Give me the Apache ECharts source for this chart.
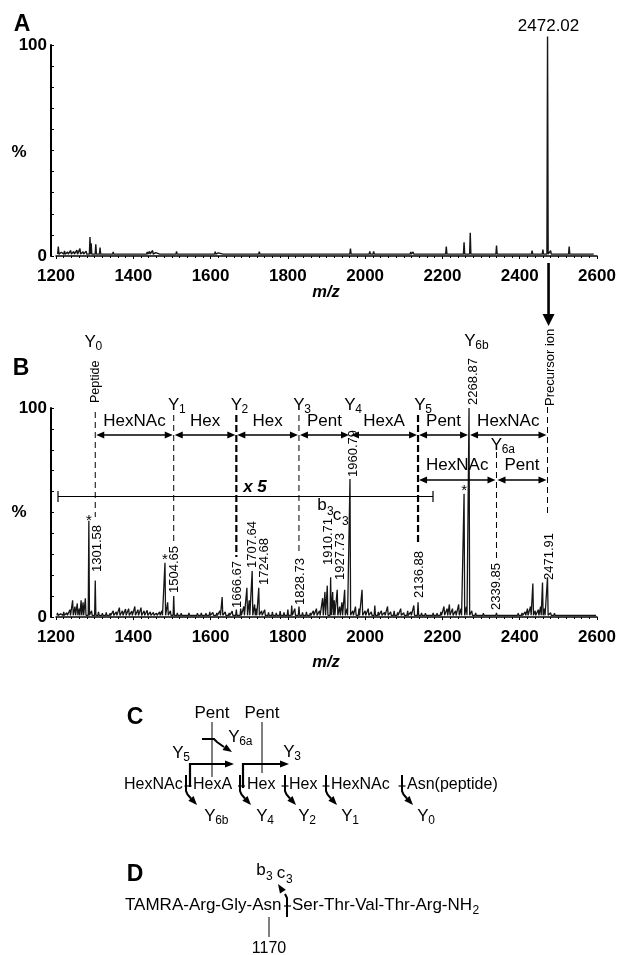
<!DOCTYPE html>
<html>
<head>
<meta charset="utf-8">
<script src="https://cdn.jsdelivr.net/npm/echarts/dist/echarts.min.js"></script>
<style>
  html, body { margin: 0; padding: 0; background: #fff; }
  #main { width: 620px; height: 955px; }
</style>
</head>
<body>
<div id="main"></div>
<script>
// ---- data ----
// panel A: full MS scan, [m/z, relative intensity %]
const peaksA = [
  [1206, 4.5], [1262, 3.5], [1288, 9], [1291, 6], [1303, 5.5], [1314, 4],
  [1450, 2.6], [1512, 2.2], [1612, 2.1], [1726, 2], [1962, 3.5], [2012, 2.2],
  [2022, 2.2], [2118, 1.9], [2124, 1.9], [2210, 4.5], [2256, 6.5], [2272, 11],
  [2340, 5], [2432, 2.5], [2460, 3], [2472.02, 104], [2480, 2.5], [2528, 4.5]
];
const noiseA = [
  [1214, 1.8], [1222, 2.4], [1230, 1.9], [1238, 2.6], [1246, 2.1], [1254, 2.8],
  [1270, 2.0], [1278, 2.3], [1325, 1.8], [1335, 1.5], [1348, 1.9], [1360, 1.6],
  [1372, 1.7], [1385, 1.5], [1398, 1.8], [1410, 1.6], [1422, 1.7], [1436, 1.9],
  [1442, 2.2], [1458, 1.6], [1470, 1.5], [1484, 1.7], [1496, 1.6], [1522, 1.5],
  [1536, 1.6], [1550, 1.4], [1564, 1.5], [1578, 1.4], [1592, 1.6], [1620, 1.5],
  [1634, 1.4], [1648, 1.5], [1662, 1.4], [1676, 1.5], [1690, 1.4], [1704, 1.5],
  [1738, 1.4], [1752, 1.5], [1766, 1.3], [1780, 1.4], [1794, 1.3], [1808, 1.4],
  [1822, 1.3], [1836, 1.4], [1850, 1.3], [1864, 1.4], [1878, 1.3], [1892, 1.3],
  [1906, 1.4], [1920, 1.3], [1934, 1.4], [1946, 1.3], [1975, 1.5], [1990, 1.4],
  [2040, 1.3], [2055, 1.4], [2070, 1.3], [2085, 1.3], [2100, 1.4], [2135, 1.4],
  [2150, 1.3], [2165, 1.3], [2180, 1.5], [2195, 1.6], [2225, 1.5], [2240, 1.6],
  [2290, 1.4], [2305, 1.3], [2320, 1.5], [2360, 1.3], [2375, 1.3], [2390, 1.2],
  [2410, 1.4], [2445, 1.5], [2490, 1.5], [2505, 1.4], [2545, 1.4], [2560, 1.3],
  [2575, 1.3], [2590, 1.3]
];
// panel B: MS/MS of the precursor, [m/z, relative intensity %]
const peaksB = [
  [1204, 2], [1212, 1.5], [1220, 2.5], [1228, 2], [1236, 3.5], [1243, 8], [1249, 5],
  [1255, 6.5], [1260, 4], [1265, 8], [1270, 7], [1276, 9], [1285, 46], [1292, 3],
  [1301.58, 17.5], [1310, 2.5], [1320, 1.8], [1330, 2.2], [1340, 1.8], [1348, 3],
  [1356, 2.5], [1364, 4.5], [1372, 3], [1380, 3.8], [1388, 4], [1396, 2.8], [1404, 5],
  [1412, 3.5], [1420, 4.5], [1428, 3], [1436, 3.2], [1444, 2.5], [1452, 2.2], [1460, 1.8],
  [1468, 2.5], [1474, 3], [1482, 26], [1489, 7], [1496, 3], [1504.65, 10], [1514, 2],
  [1524, 1.8], [1534, 1.5], [1544, 2], [1556, 1.6], [1566, 1.8], [1576, 2], [1588, 1.8],
  [1598, 2.5], [1606, 2.2], [1616, 2], [1624, 3], [1630, 9.5], [1638, 2.5], [1648, 2],
  [1656, 2.8], [1666.67, 3.5], [1678, 4], [1686, 5], [1694, 14], [1700, 8],
  [1707.64, 22], [1714, 6], [1718, 4], [1724.68, 14], [1732, 3], [1740, 3.5], [1750, 2.2],
  [1760, 2.5], [1770, 2], [1780, 2.8], [1790, 2.2], [1800, 3.5], [1810, 5.5], [1818, 4],
  [1828.73, 5], [1838, 2.2], [1848, 2.5], [1858, 2], [1866, 3], [1874, 4], [1882, 3],
  [1890, 9], [1896, 12], [1902, 15], [1910.71, 19], [1916, 12], [1920, 8], [1927.73, 13],
  [1934, 5], [1940, 7], [1947, 13], [1953, 4], [1960.79, 66], [1968, 3], [1975, 5],
  [1984, 4], [1992, 13], [2000, 3], [2008, 4], [2016, 2.5], [2025, 5.5], [2034, 2.5],
  [2042, 3], [2050, 2.2], [2058, 5], [2066, 2.5], [2075, 3], [2084, 2.2], [2092, 4],
  [2100, 2], [2110, 3], [2118, 2.5], [2126, 5.5], [2136.88, 7], [2146, 2], [2156, 1.8],
  [2166, 1.5], [2176, 2], [2186, 1.8], [2196, 2.5], [2204, 5], [2212, 4], [2218, 6],
  [2226, 4], [2234, 3], [2242, 6], [2248, 4], [2256, 59], [2262, 5], [2268.87, 100],
  [2276, 3], [2286, 2], [2296, 1.5], [2306, 1.8], [2318, 1.5], [2328, 1.5], [2339.85, 2],
  [2350, 1.5], [2362, 1.3], [2374, 1.5], [2386, 1.5], [2396, 1.8], [2406, 2], [2414, 2.5],
  [2420, 4], [2428, 5], [2434, 16], [2440, 3], [2448, 3.5], [2454, 5], [2459, 16.5],
  [2464, 4], [2471.91, 19], [2480, 2], [2490, 1.8], [2502, 1.5], [2514, 1.3], [2528, 1.5],
  [2542, 1.3], [2556, 1.3], [2570, 1.2], [2584, 1.2], [2596, 1.2]
];
const xTicks = [1200, 2600, 200];      // min, max, step of m/z axis
const yTicks = [0, 100];

// fragment ions (B)
const ionMz = [1301.58, 1504.65, 1666.67, 1828.73, 1960.79, 2136.88, 2268.87, 2471.91];
const row1Loss = ['HexNAc', 'Hex', 'Hex', 'Pent', 'HexA', 'Pent', 'HexNAc'];
const row2Mz = [2136.88, 2339.85, 2471.91];
const row2Loss = ['HexNAc', 'Pent'];
const labelMz = [1301.58, 1504.65, 1666.67, 1707.64, 1724.68, 1828.73, 1910.71,
  1927.73, 1960.79, 2136.88, 2268.87, 2339.85, 2471.91];
const starMz = [1285, 1482, 2256];
const guideMz = [1301.58, 1504.65, 1666.67, 1828.73, 2136.88, 2339.85, 2471.91];

// ---- layout (pixels) ----
const labelLayout = [[2, 572], [1, 593], [1, 608], [0, 568], [6, 585], [1, 605], [-2, 565],
  [3, 580], [3, 477], [1, 598], [4, 405], [0, 610], [2, 580]];     // [dx, text bottom]
const guideLayout = [[412, 517, 1], [415, 542, 1], [415, 557, 2.2], [415, 555, 1],
  [415, 545, 2.2], [452, 558, 1], [407, 513, 1]];                    // [y1, y2, width]
const starY = [518, 557, 488];

const FONT = '"Liberation Sans", Arial, Helvetica, sans-serif';
const axisFont = { fontFamily: FONT, fontWeight: 'bold', fontSize: 17, color: '#000' };

function stick(list, floor) {
  const pts = [];
  list.slice().sort((a, b) => a[0] - b[0]).forEach(([m, h]) => {
    pts.push([m - 1.6, floor], [m, h], [m + 1.6, floor]);
  });
  return pts;
}

const chart = echarts.init(document.getElementById('main'));

const xAxisBase = i => ({
  gridIndex: i, type: 'value', min: xTicks[0], max: xTicks[1], interval: xTicks[2], offset: 3,
  axisLine: { lineStyle: { color: '#000', width: 1.5 } },
  axisTick: { length: 3, lineStyle: { color: '#000', width: 1 } },
  minorTick: { show: true, splitNumber: 10, length: 2, lineStyle: { color: '#000', width: 1 } },
  splitLine: { show: false },
  axisLabel: Object.assign({ margin: 9, formatter: v => String(v) }, axisFont)
});
const yAxisBase = i => ({
  gridIndex: i, type: 'value', min: yTicks[0], max: yTicks[1], interval: 100, offset: 5,
  axisLine: { show: true, lineStyle: { color: '#000', width: 2 } },
  axisTick: { show: true, inside: true, length: 3, lineStyle: { color: '#000' } },
  minorTick: { show: true, splitNumber: 10, length: 3, lineStyle: { color: '#000' } },
  splitLine: { show: false },
  axisLabel: Object.assign({ margin: 4 }, axisFont)
});

chart.setOption({
  animation: false,
  grid: [
    { left: 56, right: 23, top: 45, height: 211 },
    { left: 56, right: 23, top: 408, height: 209 }
  ],
  xAxis: [xAxisBase(0), xAxisBase(1)],
  yAxis: [yAxisBase(0), yAxisBase(1)],
  series: [
    {
      type: 'line', xAxisIndex: 0, yAxisIndex: 0, symbol: 'none', clip: false,
      data: stick(peaksA.concat(noiseA), 0.9),
      lineStyle: { color: '#151515', width: 1.4 }
    },
    {
      type: 'line', xAxisIndex: 1, yAxisIndex: 1, symbol: 'none', clip: false,
      data: stick(peaksB, 0.8),
      lineStyle: { color: '#151515', width: 1.3 }
    }
  ]
});

// ---- annotations ----
const G = [];
const ctx = document.createElement('canvas').getContext('2d');
function tw(s, size, bold) {
  ctx.font = (bold ? 'bold ' : '') + size + 'px ' + FONT;
  return ctx.measureText(s).width;
}
function txt(x, y, s, size, o) {
  o = o || {};
  const al = o.align || 'center', va = o.va || 'middle';
  G.push({
    type: 'text', x: x, y: y, rotation: o.rot || 0, z: 50, silent: true,
    style: {
      text: s, x: 0, y: 0, fill: '#000', fontFamily: FONT, fontSize: size,
      fontWeight: o.bold ? 'bold' : 'normal', fontStyle: o.italic ? 'italic' : 'normal',
      align: al, textAlign: al, verticalAlign: va, textVerticalAlign: va
    }
  });
}
function seg(x1, y1, x2, y2, w, dash) {
  G.push({ type: 'line', z: 50, silent: true, shape: { x1: x1, y1: y1, x2: x2, y2: y2 },
    style: { stroke: '#000', lineWidth: w, lineDash: dash || null } });
}
function pl(points, w) {
  G.push({ type: 'polyline', z: 50, silent: true, shape: { points: points },
    style: { stroke: '#000', lineWidth: w, fill: null } });
}
function head(tx, ty, dx, dy, len, half) {
  const n = Math.hypot(dx, dy); dx /= n; dy /= n;
  const bx = tx - dx * len, by = ty - dy * len;
  G.push({ type: 'polygon', z: 51, silent: true,
    shape: { points: [[tx, ty], [bx - dy * half, by + dx * half], [bx + dy * half, by - dx * half]] },
    style: { fill: '#000' } });
}
// "Y" with subscript, Y centred at cx
function yIon(cx, cy, sub, size) {
  size = size || 17;
  txt(cx, cy, 'Y', size);
  txt(cx + tw('Y', size) / 2 - 0.5, cy + 5, sub, 12, { align: 'left' });
}

const xB = m => chart.convertToPixel({ gridIndex: 1 }, [m, 0])[0];

// panel letters and axis titles
txt(22, 25, 'A', 23, { bold: true });
txt(21, 369, 'B', 23, { bold: true });
txt(135, 718, 'C', 23, { bold: true });
txt(135, 875, 'D', 23, { bold: true });
txt(19, 152, '%', 17, { bold: true });
txt(19, 512, '%', 17, { bold: true });
txt(326, 292, 'm/z', 16.5, { bold: true, italic: true });
txt(326, 662, 'm/z', 16.5, { bold: true, italic: true });

// panel A precursor label and arrow to B
const xA = m => chart.convertToPixel({ gridIndex: 0 }, [m, 0])[0];
txt(xA(2472.02) + 1, 26, '2472.02', 17);
seg(xA(2472.02) + 1, 263, xA(2472.02) + 1, 316, 2.6);
head(xA(2472.02) + 1, 326, 0, 1, 12, 6);

// panel B: guide lines
guideMz.forEach((m, i) => {
  const [y1, y2, w] = guideLayout[i];
  seg(xB(m), y1, xB(m), y2, w, w > 1.5 ? [7, 3] : [6, 4]);
});
// ion labels
yIon(xB(ionMz[0]) - 5, 342, '0');
yIon(xB(ionMz[1]), 405, '1');
yIon(xB(ionMz[2]), 405, '2');
yIon(xB(ionMz[3]), 405, '3');
yIon(xB(ionMz[4]), 405, '4');
yIon(xB(ionMz[5]) + 2, 405, '5');
yIon(xB(ionMz[6]) + 1, 341, '6b');
yIon(xB(row2Mz[1]), 445, '6a');
txt(xB(ionMz[0]), 403, 'Peptide', 12.5, { rot: Math.PI / 2, align: 'left' });
txt(xB(ionMz[7]) + 3, 406, 'Precursor ion', 13, { rot: Math.PI / 2, align: 'left' });

function dblArrow(xa, xb, y) {
  seg(xa + 6, y, xb - 6, y, 1.5);
  head(xa, y, -1, 0, 8, 3.5);
  head(xb, y, 1, 0, 8, 3.5);
}
row1Loss.forEach((s, i) => {
  const a = xB(ionMz[i]), b = xB(ionMz[i + 1]);
  dblArrow(a + 1, b - 1, 435);
  txt((a + b) / 2, 421, s, 17);
});
row2Loss.forEach((s, i) => {
  const a = xB(row2Mz[i]), b = xB(row2Mz[i + 1]);
  dblArrow(a + 1, b - 1, 480);
  txt((a + b) / 2, 465, s, 17);
});

// peak m/z labels
labelMz.forEach((m, i) => {
  const [dx, yb] = labelLayout[i];
  txt(xB(m) + dx, yb, m.toFixed(2), 13, { rot: Math.PI / 2, align: 'left' });
});
starMz.forEach((m, i) => txt(xB(m), starY[i] + 3, '*', 15));

// x 5 bar
seg(58, 496.5, 433, 496.5, 1.2);
seg(58, 491, 58, 502, 1.2);
seg(433, 491, 433, 502, 1.2);
txt(255, 487, 'x 5', 17, { bold: true, italic: true });
// b3 c3
txt(322, 505, 'b', 17); txt(327, 512, '3', 12, { align: 'left' });
txt(337, 515, 'c', 17); txt(342, 522, '3', 12, { align: 'left' });

// ---- panel C: glycan structure ----
const chainY = 785;
const chainWords = ['HexNAc', 'HexA', 'Hex', 'Hex', 'HexNAc', 'Asn(peptide)'];
const chainX = [124, 193, 247, 289, 331, 407];
const sepX = [188, 241.5, 285, 326, 402];
chainWords.forEach((w, i) => txt(chainX[i], chainY, w, 16, { align: 'left' }));
sepX.forEach(x => seg(x - 3.5, chainY + 1, x + 3.5, chainY + 1, 1.2));

txt(212, 713, 'Pent', 17);
txt(262, 713, 'Pent', 17);
seg(212, 722, 212, 777, 1);
seg(262, 722, 262, 773, 1);
// Y6a bent arrow
pl([[202, 739], [214, 739], [217, 742], [224, 747]], 2);
head(232, 752, 1, 0.65, 9, 3.5);
yIon(234, 737, '6a');
// Y5 and Y3 brackets
pl([[190, 787], [190, 764], [226, 764]], 2.2);
head(234, 764, 1, 0, 9, 3.5);
yIon(178, 753, '5');
pl([[243, 788], [243, 764], [280, 764]], 2.2);
head(289, 764, 1, 0, 9, 3.5);
yIon(289, 752, '3');
// downward cleavage arrows
function downArrow(x) {
  pl([[x, 775], [x, 791], [x + 1.5, 794.5], [x + 5, 798.5]], 2);
  head(x + 11, 805, 1, 1.1, 9, 3.5);
}
const downX = [186, 240, 285, 326, 402];
const downSub = ['6b', '4', '2', '1', '0'];
const downLabX = [210, 262, 304, 347, 423];
downX.forEach((x, i) => {
  downArrow(x);
  yIon(downLabX[i], 816, downSub[i]);
});

// ---- panel D: peptide ----
const dY = 905;
txt(125, dY, 'TAMRA-Arg-Gly-Asn', 17, { align: 'left' });
seg(284, dY + 1, 291, dY + 1, 1.2);
const tail = 'Ser-Thr-Val-Thr-Arg-NH';
txt(292, dY, tail, 17, { align: 'left' });
txt(292 + tw(tail, 17) + 0.5, dY + 6, '2', 12, { align: 'left' });
pl([[287, 917], [287, 898], [285, 894]], 2);
head(278, 884, -0.65, -1, 9, 3.5);
txt(261, 870, 'b', 17); txt(266, 877, '3', 12, { align: 'left' });
txt(281, 873, 'c', 17); txt(286, 880, '3', 12, { align: 'left' });
seg(269, 917, 269, 937, 1);
txt(269, 949, '1170', 16);

chart.setOption({ graphic: { elements: G } });
</script>
</body>
</html>
